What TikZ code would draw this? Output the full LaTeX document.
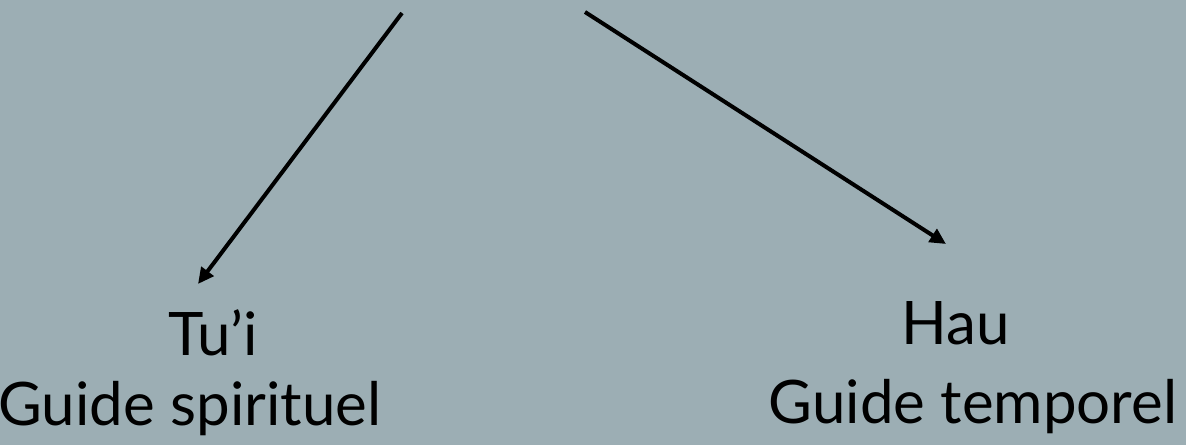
\documentclass[tikz,border=0pt]{standalone}
\usepackage{fontspec}
\setmainfont{Lato}
\usetikzlibrary{arrows.meta}
\definecolor{bgc}{RGB}{156,174,180}
\tikzset{
  lbl/.style={anchor=base, inner sep=0pt, font=\fontsize{60}{62}\selectfont, text=black},
  arr/.style={line width=4pt, -{Triangle[length=16pt,width=15pt]}}
}
\begin{document}
\begin{tikzpicture}[x=1pt,y=-1pt]
\fill[bgc] (0,0) rectangle (1186,445);
\useasboundingbox (0,0) rectangle (1186,445);
\node[lbl] (tui) at (213,355) {Tu’i};
\node[lbl] (gs) at (190,425) {Guide spirituel};
\node[lbl] (hau) at (956,344) {Hau};
\node[lbl] (gt) at (973,423) {Guide temporel};
\coordinate (s1) at (402,13);
\coordinate (e1) at (198,284);
\coordinate (s2) at (585,12);
\coordinate (e2) at (946,244);
\draw[arr] (s1) -- (e1);
\draw[arr] (s2) -- (e2);
\end{tikzpicture}
\end{document}
